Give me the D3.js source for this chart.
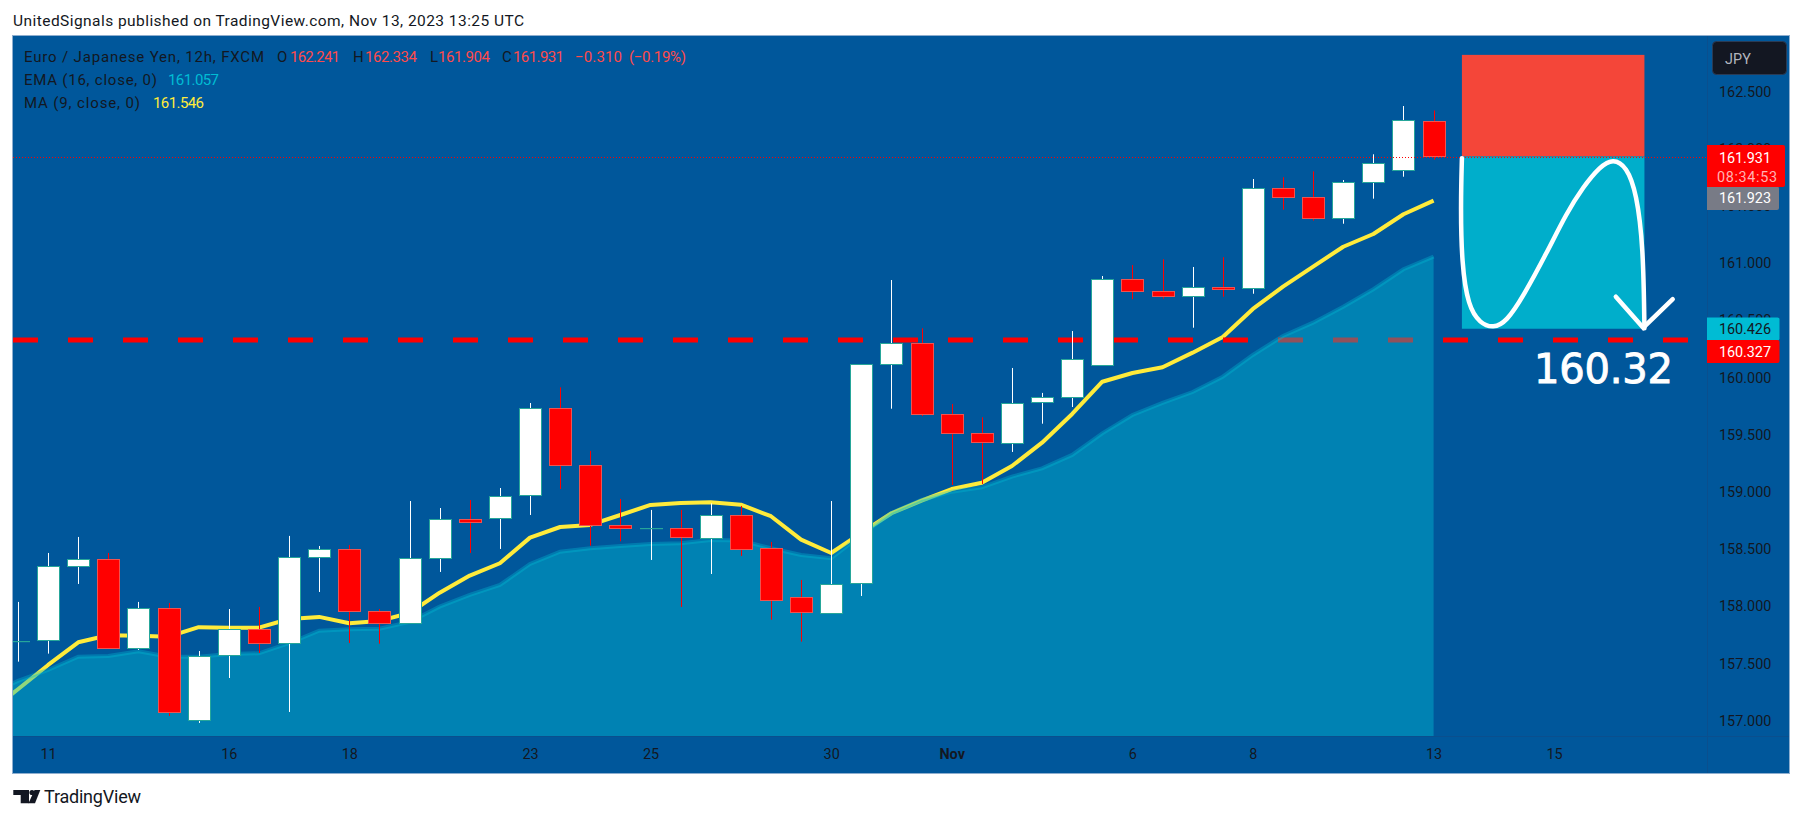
<!DOCTYPE html>
<html>
<head>
<meta charset="utf-8">
<script src="https://cdn.jsdelivr.net/npm/d3@7.9.0/dist/d3.min.js"></script>
<style>
  html, body { margin: 0; background: #fff; }
  svg { display: block; }
  text { font-family: Roboto, "Liberation Sans", sans-serif; }
</style>
</head>
<body>
<svg id="chart" width="1803" height="821"></svg>
<script>
// candles, one per 12h
const opens = [157.699,157.703,158.350,158.411,157.633,157.983,157.006,157.574,157.799,157.677,158.428,158.498,157.956,157.851,158.420,158.761,158.778,158.967,159.731,159.233,158.708,158.682,158.682,158.603,158.801,158.507,158.079,157.948,158.204,160.115,160.299,159.678,159.512,159.434,159.780,159.827,160.107,160.858,160.753,160.710,160.791,160.780,161.654,161.575,161.392,161.706,161.811,162.241];
const highs = [158.038,158.466,158.606,158.466,158.038,158.029,157.609,157.976,157.994,158.615,158.527,158.536,157.976,158.920,158.859,158.929,159.034,159.777,159.914,159.358,158.938,158.842,158.842,158.900,158.877,158.562,158.230,158.920,160.115,160.852,160.430,159.768,159.652,160.083,159.865,160.406,160.887,160.983,161.033,160.966,161.051,161.735,161.750,161.802,161.726,161.951,162.373,162.334];
const lows = [157.516,157.586,158.195,157.633,157.618,157.041,156.980,157.373,157.592,157.076,158.125,157.679,157.673,157.851,158.300,158.466,158.501,158.798,159.025,158.530,158.568,158.405,157.994,158.282,158.440,157.883,157.691,157.933,158.090,159.727,159.663,159.060,159.069,159.349,159.596,159.742,160.107,160.684,160.689,160.435,160.706,160.732,161.467,161.371,161.344,161.563,161.755,161.904];
const closes = [157.699,158.350,158.411,157.633,157.983,157.074,157.568,157.799,157.677,158.428,158.498,157.956,157.851,158.420,158.761,158.731,158.967,159.731,159.233,158.708,158.682,158.682,158.603,158.801,158.507,158.052,157.948,158.198,160.115,160.299,159.675,159.512,159.430,159.780,159.827,160.159,160.858,160.753,160.710,160.788,160.776,161.654,161.575,161.392,161.706,161.872,162.248,161.931];

// indicators, first value belongs to the bar before the visible range
const maValues = [157.067,157.275,157.487,157.685,157.747,157.743,157.734,157.817,157.813,157.813,157.889,157.907,157.851,157.872,157.941,158.119,158.268,158.376,158.600,158.693,158.711,158.798,158.886,158.903,158.909,158.888,158.787,158.582,158.466,158.641,158.813,158.923,159.025,159.080,159.226,159.430,159.681,159.963,160.039,160.089,160.217,160.354,160.599,160.794,160.969,161.143,161.254,161.427,161.546];
const emaValues = [157.225,157.347,157.443,157.559,157.565,157.607,157.559,157.559,157.583,157.589,157.677,157.787,157.799,157.804,157.863,157.997,158.099,158.186,158.370,158.477,158.507,158.527,158.545,158.551,158.580,158.574,158.507,158.448,158.420,158.623,158.816,158.929,159.002,159.040,159.133,159.206,159.323,159.512,159.672,159.777,159.873,160.007,160.197,160.363,160.479,160.619,160.771,160.946,161.057];

// axes
const priceTicks = [157,157.5,158,158.5,159,159.5,160,160.5,161,161.5,162,162.5];
const timeTickBars = [1,7,11,17,21,27,31,37,41,47,51];
const timeTickLabels = ['11','16','18','23','25','30','Nov','6','8','13','15'];

// drawings
const supportLevel = 160.327;
const lastPrice = 161.931;
const stopPrice = 162.82;
const targetPrice = 160.426;
const toolBars = [47.94, 54];
const curveBars = [47.94,47.9,47.93,48.15,48.54,48.98,49.42,49.97,50.75,51.41,51.97,52.52,52.96,53.41,53.74,53.96,54];
const curvePrices = [161.916,161.523,160.998,160.619,160.474,160.43,160.488,160.706,161.086,161.435,161.668,161.843,161.915,161.843,161.61,161.143,160.43];
const headBars = [53.05,53.96,54.94];
const headPrices = [160.706,160.435,160.684];

const BG = '#00579b', DARK = '#131722', RED = '#ff0000', CYAN = '#00bcd4', YELLOW = '#ffeb3b';
const plot = { left: 13, right: 1707, top: 36, bottom: 736, axisRight: 1789, footer: 773 };

const svg = d3.select('#chart');
const x = d3.scaleLinear().domain([0, 47]).range([18, 1433.6]);
const y = d3.scaleLinear().domain([156.866, 162.985]).range([plot.bottom, plot.top]);

svg.append('defs').append('clipPath').attr('id', 'plot-clip').append('rect')
  .attr('x', plot.left).attr('y', plot.top)
  .attr('width', plot.right - plot.left).attr('height', plot.bottom - plot.top);

// panel
svg.append('rect')
  .attr('x', plot.left - 0.5).attr('y', plot.top - 0.5)
  .attr('width', plot.axisRight - plot.left + 1).attr('height', plot.footer - plot.top + 1)
  .attr('fill', BG).attr('stroke', '#8eaecf');
svg.append('line').attr('x1', plot.left).attr('x2', plot.axisRight)
  .attr('y1', plot.bottom + 0.5).attr('y2', plot.bottom + 0.5).attr('stroke', '#0a4f8e');
svg.append('line').attr('x1', plot.right + 0.5).attr('x2', plot.right + 0.5)
  .attr('y1', plot.top).attr('y2', plot.footer).attr('stroke', '#0a4f8e');

// header and footer text
function label(parent, str, px, py, opts = {}) {
  const t = parent.append('text').attr('x', px).attr('y', py)
    .attr('font-size', opts.size || 15).attr('fill', opts.fill || DARK).text(str);
  if (opts.width) t.attr('textLength', opts.width).attr('lengthAdjust', 'spacing');
  if (opts.weight) t.attr('font-weight', opts.weight);
  if (opts.anchor) t.attr('text-anchor', opts.anchor);
  return t;
}
label(svg, 'UnitedSignals published on TradingView.com, Nov 13, 2023 13:25 UTC', 13, 26, { size: 15.5, width: 511 });

const lossText = '#ff4a4a';
const head = svg.append('g');
label(head, 'Euro / Japanese Yen, 12h, FXCM', 24, 62, { width: 240 });
label(head, 'O', 277, 62);
label(head, '162.241', 290, 62, { fill: lossText, width: 50 });
label(head, 'H', 353, 62);
label(head, '162.334', 365, 62, { fill: lossText, width: 52 });
label(head, 'L', 430, 62);
label(head, '161.904', 438, 62, { fill: lossText, width: 52 });
label(head, 'C', 502, 62);
label(head, '161.931', 513, 62, { fill: lossText, width: 51 });
label(head, '−0.310', 575, 62, { fill: lossText, width: 47 });
label(head, '(−0.19%)', 629, 62, { fill: lossText, width: 57 });
label(head, 'EMA (16, close, 0)', 24, 85, { width: 133 });
label(head, '161.057', 168, 85, { fill: CYAN, width: 51 });
label(head, 'MA (9, close, 0)', 24, 108, { width: 116 });
label(head, '161.546', 153, 108, { fill: YELLOW, width: 51 });

// logo
const logo = svg.append('g').attr('fill', DARK);
logo.append('path').attr('d', 'M13.3,790H29V803.3H20.7V795H13.3Z');
logo.append('circle').attr('cx', 32).attr('cy', 792.5).attr('r', 2.6);
logo.append('path').attr('d', 'M34.5,790H40.3L35,803.3H28.5Z');
label(svg, 'TradingView', 44, 803, { size: 18, width: 97 });

// plot layers
const g = svg.append('g').attr('clip-path', 'url(#plot-clip)');

// indicators start one bar earlier than the candles
const lineX = (d, i) => x(i - 1);
g.append('path').datum(maValues)
  .attr('fill', 'none').attr('stroke', YELLOW).attr('stroke-width', 4)
  .attr('stroke-linejoin', 'round')
  .attr('d', d3.line().x(lineX).y(d => y(d)));

// support level sits under the EMA area
g.append('line')
  .attr('x1', plot.left).attr('x2', plot.right)
  .attr('y1', y(supportLevel)).attr('y2', y(supportLevel))
  .attr('stroke', RED).attr('stroke-width', 5).attr('stroke-dasharray', '25 30');

g.append('path').datum(emaValues)
  .attr('fill', CYAN).attr('fill-opacity', 0.43)
  .attr('d', d3.area().x(lineX).y0(plot.bottom).y1(d => y(d)));
g.append('path').datum(emaValues)
  .attr('fill', 'none').attr('stroke', CYAN).attr('stroke-opacity', 0.35).attr('stroke-width', 4)
  .attr('d', d3.line().x(lineX).y(d => y(d)));

// candles
const bars = d3.range(opens.length).map(i => ({
  i, open: opens[i], high: highs[i], low: lows[i], close: closes[i], up: closes[i] >= opens[i]
}));
const candle = g.selectAll('g.candle').data(bars).join('g').attr('class', 'candle');
candle.append('line')
  .attr('x1', d => Math.round(x(d.i)) + 0.5).attr('x2', d => Math.round(x(d.i)) + 0.5)
  .attr('y1', d => y(d.high)).attr('y2', d => y(d.low))
  .attr('stroke', d => d.up ? '#ffffff' : RED);
candle.append('rect')
  .attr('x', d => Math.round(x(d.i)) - 10.5)
  .attr('width', 22)
  .attr('y', d => Math.round(y(Math.max(d.open, d.close))) + 0.5)
  .attr('height', d => Math.max(0.2, Math.round(Math.abs(y(d.open) - y(d.close)))))
  .attr('fill', d => d.up ? '#ffffff' : RED)
  .attr('stroke', d => d.up ? '#26a69a' : '#ef5350');

// short position tool
g.append('rect')
  .attr('x', x(toolBars[0])).attr('width', x(toolBars[1]) - x(toolBars[0]))
  .attr('y', y(stopPrice)).attr('height', y(lastPrice) - y(stopPrice))
  .attr('fill', '#f44639');
g.append('rect')
  .attr('x', x(toolBars[0])).attr('width', x(toolBars[1]) - x(toolBars[0]))
  .attr('y', y(lastPrice)).attr('height', y(targetPrice) - y(lastPrice))
  .attr('fill', '#00aecb');

// last price line
g.append('line')
  .attr('x1', plot.left).attr('x2', plot.right)
  .attr('y1', Math.round(y(lastPrice)) + 0.5).attr('y2', Math.round(y(lastPrice)) + 0.5)
  .attr('stroke', RED).attr('stroke-dasharray', '1 2');

// hand drawn arrow
const pen = d3.line().x(d => x(d[0])).y(d => y(d[1]));
g.append('path').datum(curveBars.map((b, i) => [b, curvePrices[i]]))
  .attr('fill', 'none').attr('stroke', '#fff').attr('stroke-width', 4.5).attr('stroke-linecap', 'round')
  .attr('d', pen.curve(d3.curveBasis));
g.append('path').datum(headBars.map((b, i) => [b, headPrices[i]]))
  .attr('fill', 'none').attr('stroke', '#fff').attr('stroke-width', 4.5)
  .attr('stroke-linecap', 'round').attr('stroke-linejoin', 'miter')
  .attr('d', d3.line().x(d => x(d[0])).y(d => y(d[1])));

label(svg, '160.32', 1534, 383, { size: 40, fill: '#fff', width: 139 })
  .attr('stroke', '#fff').attr('stroke-width', 0.9)
  .style('font-family', '"DejaVu Sans", sans-serif');

// axes
const priceAxis = svg.append('g')
  .attr('transform', `translate(${plot.right},0)`)
  .call(d3.axisRight(y).tickValues(priceTicks).tickFormat(d3.format('.3f')).tickSize(0).tickPadding(12));
const timeAxis = svg.append('g')
  .attr('transform', `translate(0,${plot.bottom})`)
  .call(d3.axisBottom(x).tickValues(timeTickBars)
    .tickFormat((d, i) => timeTickLabels[i]).tickSize(0).tickPadding(13));
[priceAxis, timeAxis].forEach(a => {
  a.select('.domain').remove();
  a.selectAll('text').attr('font-family', 'Roboto, "Liberation Sans", sans-serif')
    .attr('font-size', 14.4).attr('fill', DARK);
});
timeAxis.selectAll('text').filter(d => timeTickLabels[timeTickBars.indexOf(d)] === 'Nov').attr('font-weight', 'bold');

// price scale badges
const badge = svg.append('g');
function priceBadge(top, height, width, fill) {
  badge.append('path')
    .attr('d', `M${plot.right},${top}H${plot.right + width - 2}a2,2 0 0 1 2,2V${top + height - 2}a2,2 0 0 1 -2,2H${plot.right}Z`)
    .attr('fill', fill);
}
priceBadge(186.5, 23.5, 72, '#787b86');
priceBadge(145, 42, 78, RED);
priceBadge(317.5, 23, 72.5, CYAN);
priceBadge(340, 23, 72.5, RED);
label(badge, '161.931', 1719, 163, { size: 14.4, fill: '#fff', width: 52 });
label(badge, '08:34:53', 1717, 182, { size: 14.4, fill: '#ffb3b3', width: 60 });
label(badge, '161.923', 1719, 203, { size: 14.4, fill: '#fff', width: 52 });
label(badge, '160.426', 1719, 334, { size: 14.4, fill: DARK, width: 52 });
label(badge, '160.327', 1719, 357, { size: 14.4, fill: '#fff', width: 52 });

// currency button
svg.append('rect').attr('x', 1712.5).attr('y', 41.5).attr('width', 74).attr('height', 33).attr('rx', 4)
  .attr('fill', DARK).attr('stroke', '#2a3b55');
label(svg, 'JPY', 1725, 64, { size: 14.4, fill: '#b2b5be', width: 26 });
</script>
</body>
</html>
